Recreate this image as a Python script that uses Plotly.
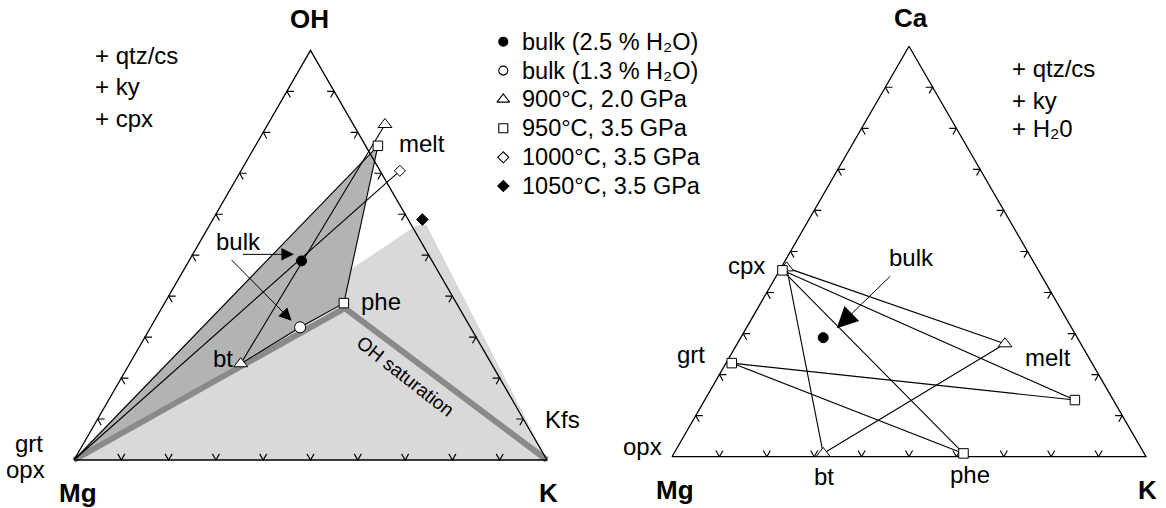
import numpy as np
import plotly.graph_objects as go

SQ = np.sqrt(3) / 2

# ---------------- data: left diagram, compositions (OH, Mg, K) in % ----------------
L_BULK25 = (48.6, 27.6, 23.8)
L_BULK13 = (32.4, 36.0, 31.6)
L_BT900 = (23.5, 53.0, 23.5)
L_PHE950 = (38.3, 23.8, 37.9)
L_MELT900 = (81.9, -6.7, 24.8)
L_MELT950 = (76.7, -2.6, 25.9)
L_MELT1000 = (70.6, -4.2, 33.6)
L_MELT1050 = (58.7, -3.0, 44.3)
L_MG = (0, 100, 0)
L_K = (0, 0, 100)
L_OH = (100, 0, 0)
L_LIGHT_FIELD = [(0, 100, 0), (46.6, 18.1, 35.3), (57.1, -0.7, 43.6),
                 (57.5, -3.2, 45.7), (0, 0, 100)]
L_DARK_FIELD = [L_MG, L_MELT950, L_PHE950]
L_OH_SAT = [L_MG, (37.1, 24.2, 38.7), L_K]
L_ARROW1 = [(50.2, 39.5, 10.3), (50.2, 28.4, 21.4)]   # tail, tip
L_ARROW2 = [(49.2, 42.4, 8.4), (34.0, 37.0, 29.0)]

# ---------------- data: right diagram, compositions (Ca, Mg, K) in % ----------------
R_CPX900 = (46.0, 52.8, 1.2)
R_CPX950 = (45.4, 54.0, 0.6)
R_GRT950 = (22.8, 76.0, 1.2)
R_BULK = (29.0, 53.6, 17.4)
R_BT900 = (0.8, 67.7, 31.5)
R_PHE950 = (0.8, 38.1, 61.1)
R_MELT900 = (27.5, 16.0, 56.5)
R_MELT950 = (13.8, 8.1, 78.1)
R_MG = (0, 100, 0)
R_K = (0, 0, 100)
R_CA = (100, 0, 0)
R_ARROW = [(44.3, 31.5, 24.2), (31.3, 49.6, 19.1)]

TICKS = [10, 20, 30, 40, 50, 60, 70, 80, 90]

KEY_LABELS = ["bulk (2.5 % H₂O)", "bulk (1.3 % H₂O)",
              "900°C, 2.0 GPa", "950°C, 3.5 GPa", "1000°C, 3.5 GPa", "1050°C, 3.5 GPa"]

FONT = "Liberation Sans, Arial, Helvetica, sans-serif"


def xy(pts):
    """ternary (top, left, right) -> cartesian on a unit-side triangle"""
    xs, ys = [], []
    for p in pts:
        if p is None:
            xs.append(None); ys.append(None); continue
        a, b, c = p
        s = a + b + c
        a, c = a / s, c / s
        xs.append(c + a / 2)
        ys.append(a * SQ)
    return xs, ys


def chevrons(ticks, d):
    pts = []
    for t in ticks:
        t = t / 100
        pts += [(t, 1 - t - d, d), (t, 1 - t, 0), (t - d, 1 - t, d), None]   # left edge
        pts += [(d, 1 - t, t - d), (0, 1 - t, t), (d, 1 - t - d, t), None]   # bottom edge
        pts += [(t, d, 1 - t - d), (t, 0, 1 - t), (t - d, d, 1 - t), None]   # right edge
    return pts


fig = go.Figure()


def add(pts, ax, **kw):
    x, y = xy(pts)
    kw.setdefault("showlegend", False)
    fig.add_trace(go.Scatter(x=x, y=y, xaxis="x" + ax, yaxis="y" + ax,
                             hoverinfo="skip", **kw))


def segs(pairs):
    out = []
    for p, q in pairs:
        out += [p, q, None]
    return out


BL = dict(color="black", width=1.1)

# ---- left diagram ----
add(L_LIGHT_FIELD + [L_LIGHT_FIELD[0]], "", mode="lines", fill="toself",
    fillcolor="#d9d9d9", line=dict(width=0))
add(L_DARK_FIELD + [L_DARK_FIELD[0]], "", mode="lines", fill="toself",
    fillcolor="#b3b3b3", line=dict(width=0))
add(L_OH_SAT, "", mode="lines", line=dict(color="#8a8a8a", width=6))
add(segs([(L_MG, L_MELT950), (L_MELT950, L_PHE950), (L_MG, L_MELT1000),
          (L_BT900, L_MELT900)]) + [L_BT900, L_BULK13, L_PHE950], "",
    mode="lines", line=BL)
add([L_MG, L_K, L_OH, L_MG], "", mode="lines", line=dict(color="black", width=1.3))
add(chevrons(TICKS, 0.015), "", mode="lines", line=dict(color="black", width=1.15))

# ---- right diagram ----
add(segs([(R_CPX900, R_MELT900), (R_CPX950, R_MELT950), (R_CPX900, R_BT900),
          (R_CPX950, R_PHE950), (R_GRT950, R_MELT950), (R_GRT950, R_PHE950),
          (R_BT900, R_MELT900)]), "2", mode="lines", line=BL)
add([R_MG, R_K, R_CA, R_MG], "2", mode="lines", line=dict(color="black", width=1.3))
add(chevrons(TICKS, 0.015), "2", mode="lines", line=dict(color="black", width=1.15))

# ---- markers ----
ML = dict(color="black", width=1)
sym = {
    "bulk25": dict(symbol="circle", size=10, color="black", line=ML),
    "bulk13": dict(symbol="circle", size=11, color="white", line=ML),
    "900": dict(symbol="triangle-up", size=12, color="white", line=ML),
    "950": dict(symbol="square", size=9.5, color="white", line=ML),
    "1000": dict(symbol="diamond", size=8.5, color="white", line=ML),
    "1050": dict(symbol="diamond", size=9, color="black", line=ML),
}
add([L_BULK25], "", mode="markers", marker=sym["bulk25"])
add([L_BULK13], "", mode="markers", marker=sym["bulk13"])
add([L_BT900, L_MELT900], "", mode="markers", marker=sym["900"])
add([L_PHE950, L_MELT950], "", mode="markers", marker=sym["950"])
add([L_MELT1000], "", mode="markers", marker=sym["1000"])
add([L_MELT1050], "", mode="markers", marker=sym["1050"])
add([R_BULK], "2", mode="markers", marker=sym["bulk25"])
add([R_CPX900, R_BT900, R_MELT900], "2", mode="markers", marker=sym["900"])
add([R_CPX950, R_GRT950, R_PHE950, R_MELT950], "2", mode="markers", marker=sym["950"])

# ---- key (legend) drawn in the left panel's upper right ----
KEY_X, KEY_TX = 0.9076, 0.9429
KEY_Y = [0.8844, 0.8233, 0.7624, 0.7013, 0.6400, 0.5793]
fig.add_trace(go.Scatter(
    x=[KEY_X] * 6, y=KEY_Y, mode="markers", showlegend=False, hoverinfo="skip",
    marker=dict(symbol=["circle", "circle", "triangle-up", "square", "diamond", "diamond"],
                size=[9, 9, 11, 9, 8.5, 8.5], opacity=1,
                color=["black", "white", "white", "white", "white", "black"],
                line=dict(color="black", width=1.1))))

# ---- annotations ----
ann = []


def txt(s, x, y, ax="", xa="center", size=24, bold=False, angle=0):
    ann.append(dict(text=("<b>%s</b>" % s) if bold else s, x=x, y=y,
                    xref="x" + ax, yref="y" + ax, xanchor=xa, yanchor="middle",
                    showarrow=False, textangle=angle,
                    font=dict(family=FONT, size=size, color="black")))


def arrow(pts, ax="", size=2.0):
    (tx, hx), (ty, hy) = xy(pts)
    ann.append(dict(text="", x=hx, y=hy, ax=tx, ay=ty, xref="x" + ax, yref="y" + ax,
                    axref="x" + ax, ayref="y" + ax, showarrow=True, arrowhead=2,
                    arrowsize=size, arrowwidth=1, arrowcolor="black", standoff=0))


for lab, ky in zip(KEY_LABELS, KEY_Y):
    txt(lab, KEY_TX, ky, xa="left", size=23.5)

# left
txt("OH", 0.4989, 0.9323, bold=True, size=26)
txt("+ qtz/cs", 0.0402, 0.8562, xa="left")
txt("+ ky", 0.0402, 0.7892, xa="left")
txt("+ cpx", 0.0402, 0.7224, xa="left")
txt("melt", 0.6829, 0.6696, xa="left")
txt("bulk", 0.3474, 0.4615)
txt("phe", 0.6032, 0.3347, xa="left")
txt("bt", 0.3404, 0.2150, xa="right")
txt("OH saturation", 0.7013, 0.1776, size=19, angle=38)
txt("Kfs", 0.9922, 0.0846, xa="left")
txt("grt", -0.0613, 0.0353, xa="right")
txt("opx", -0.0577, -0.0211, xa="right")
txt("Mg", 0.0074, -0.0698, bold=True, size=26)
txt("K", 1.0042, -0.0704, bold=True, size=26)
arrow(L_ARROW1, "", 2.5)
arrow(L_ARROW2, "", 2.5)
# right
txt("Ca", 0.5042, 0.9249, "2", bold=True, size=26)
txt("+ qtz/cs", 0.7131, 0.8194, "2", xa="left")
txt("+ ky", 0.7131, 0.7525, "2", xa="left")
txt("+ H₂0", 0.7131, 0.6928, "2", xa="left")
txt("cpx", 0.2004, 0.4044, "2", xa="right")
txt("grt", 0.0397, 0.2146, "2")
txt("opx", -0.0169, 0.0205, "2", xa="right")
txt("Mg", 0.0063, -0.0703, "2", bold=True, size=26)
txt("bt", 0.3207, -0.0422, "2")
txt("phe", 0.6297, -0.0365, "2")
txt("K", 1.0021, -0.0703, "2", bold=True, size=26)
txt("melt", 0.7411, 0.2097, "2", xa="left")
txt("bulk", 0.5049, 0.4207, "2")
arrow(R_ARROW, "2", 4.2)

W, H = 1166, 508
# left triangle: Mg vertex at pixel (74, 460), side 473 px
# right triangle: Mg vertex at pixel (672, 456.7), side 474 px
def rng(ox, oy, s, x0, x1):
    return [(x0 - ox) / s, (x1 - ox) / s], [-(H - oy) / s, oy / s]

xr1, yr1 = rng(74, 460, 473, 0, 583)
xr2, yr2 = rng(672, 456.7, 474, 583, 1166)
hid = dict(visible=False, showgrid=False, zeroline=False, fixedrange=True)

fig.update_layout(
    width=W, height=H, margin=dict(l=0, r=0, t=0, b=0),
    paper_bgcolor="white", plot_bgcolor="white", showlegend=False,
    xaxis=dict(domain=[0, 583 / W], range=xr1, **hid),
    yaxis=dict(domain=[0, 1], range=yr1, **hid),
    xaxis2=dict(domain=[583 / W, 1], range=xr2, **hid),
    yaxis2=dict(domain=[0, 1], range=yr2, anchor="x2", **hid),
    annotations=ann,
    font=dict(family=FONT),
)
fig.write_html("out.html")
